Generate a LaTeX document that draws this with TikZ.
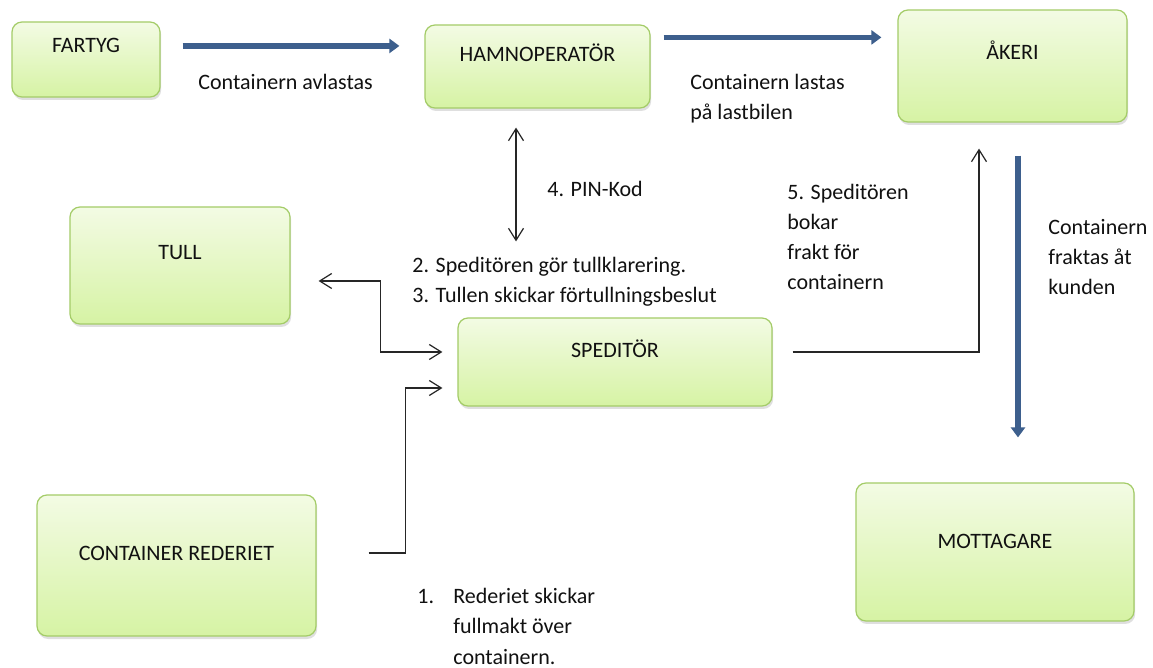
\documentclass[tikz,border=0pt]{standalone}
\usepackage{fontspec}
\setmainfont{Carlito}
\usetikzlibrary{arrows.meta,shadows}
\definecolor{boxtop}{HTML}{F3FBE4}
\definecolor{boxbot}{HTML}{D6F3A4}
\definecolor{boxline}{HTML}{A4CC68}
\definecolor{flowblue}{HTML}{3D5F8D}
\definecolor{txt}{HTML}{111111}
\tikzset{
  box/.style={draw=boxline, line width=0.6pt, rounded corners=5pt,
    top color=boxtop, bottom color=boxbot,
    drop shadow={opacity=0.25, shadow xshift=0.6pt, shadow yshift=-1.5pt},
    inner sep=0pt},
  boxtext/.style={anchor=base, inner sep=0pt, text=txt},
  lbl/.style={anchor=base west, inner sep=0pt, align=left, text=txt},
  flow/.style={draw=flowblue, line width=2.6pt, -{Triangle[width=7pt,length=5pt]}},
  thinarrow/.style={draw=black!85, line width=0.6pt},
  tip/.tip={Straight Barb[length=6pt,width=7.5pt,line width=0.6pt]},
}
\begin{document}
\begin{tikzpicture}[x=0.5pt,y=-0.5pt,font=\fontsize{11}{15.1}\selectfont]
\useasboundingbox[fill=white] (0,0) rectangle (1153,668);

% boxes
\node[box, minimum width=74pt, minimum height=37.5pt] (fartyg) at (86,59.5) {};
\node[boxtext] (fartygT) at (86,53) {FARTYG};
\node[box, minimum width=112.5pt, minimum height=41.5pt] (hamn) at (537.5,66.5) {};
\node[boxtext] (hamnT) at (537.5,62) {HAMNOPERATÖR};
\node[box, minimum width=114.5pt, minimum height=56pt] (akeri) at (1012.5,66) {};
\node[boxtext] (akeriT) at (1012.5,60) {ÅKERI};
\node[box, minimum width=110pt, minimum height=58.5pt] (tull) at (180,265.5) {};
\node[boxtext] (tullT) at (180,260) {TULL};
\node[box, minimum width=157pt, minimum height=44pt] (sped) at (615,362) {};
\node[boxtext] (spedT) at (615,358) {SPEDITÖR};
\node[box, minimum width=139.5pt, minimum height=70.5pt] (rederi) at (176.5,565.5) {};
\node[boxtext] (rederiT) at (176.5,560) {CONTAINER REDERIET};
\node[box, minimum width=139pt, minimum height=69pt] (mott) at (995,552) {};
\node[boxtext] (mottT) at (995,549) {MOTTAGARE};

% thick blue flows
\draw[flow] ([xshift=11pt]fartyg.east |- fartygT) -- ([xshift=-12.5pt]hamn.west |- fartygT);
\draw[flow] ([shift={(13,13)}]hamn.north east) -- ([shift={(-16,28)}]akeri.north west);
\draw[flow] ([shift={(5.5,33)}]akeri.south) -- ([shift={(23,-45)}]mott.north);

% thin connectors
\draw[thinarrow, tip-tip] ([shift={(-21.5,19)}]hamn.south) -- ([shift={(-99,-76)}]sped.north);
\coordinate (tullA) at ([shift={(28,15.5)}]tull.east);
\coordinate (spedA) at ([shift={(-15,-10)}]sped.west);
\draw[thinarrow, tip-tip] (tullA) -- ++(62,0) |- (spedA);
\coordinate (redA) at ([shift={(52,-12.5)}]rederi.east);
\coordinate (spedB) at ([shift={(-15,26)}]sped.west);
\draw[thinarrow, -tip] (redA) -- ++(37,0) |- (spedB);
\coordinate (spedC) at ([shift={(20,-10)}]sped.east);
\coordinate (akeriA) at ([shift={(-33.5,26)}]akeri.south);
\draw[thinarrow, -tip] (spedC) -| (akeriA);

% labels (base = baseline of last line)
\node[lbl] (l1) at (198,90) {Containern avlastas};
\node[lbl] (l2) at (690,120) {Containern lastas\\på lastbilen};
\node[lbl] (l3) at (547,197) {4. PIN-Kod};
\node[lbl] (l4) at (412,303) {2. Speditören gör tullklarering.\\3. Tullen skickar förtullningsbeslut};
\node[lbl] (l5) at (787,290) {5. Speditören\\bokar\\frakt för\\containern};
\node[lbl] (l6) at (1048,295) {Containern\\fraktas åt\\kunden};
\node[lbl] (l7) at (417,664) {\makebox[18pt][l]{1.}Rederiet skickar\\\hspace*{18pt}fullmakt över\\\hspace*{18pt}containern.};
\end{tikzpicture}
\end{document}
